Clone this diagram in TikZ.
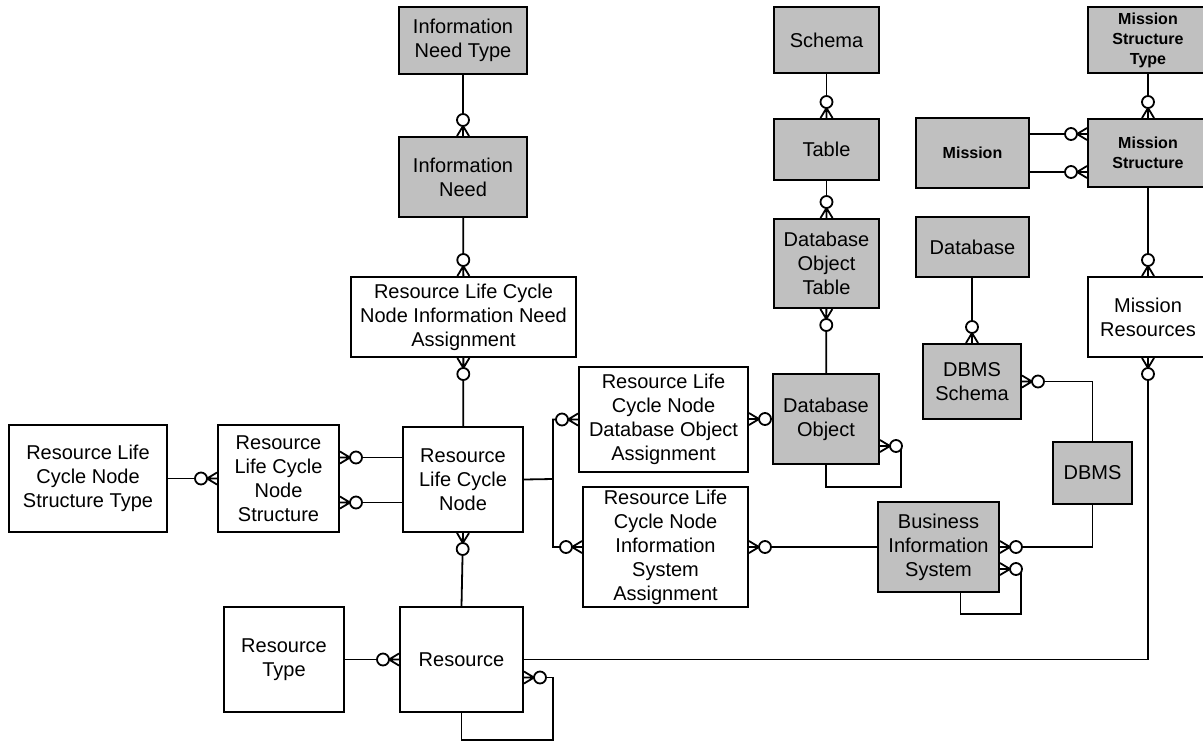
\documentclass[tikz,border=0pt]{standalone}
\usepackage{fontspec}
\setmainfont{Liberation Sans}
\usetikzlibrary{arrows.meta}

% zero-or-many crow's foot: open circle followed by a three-prong foot at the entity
\pgfdeclarearrow{
  name = ZeroMany,
  setup code = {
    \pgfarrowssettipend{0pt}
    \pgfarrowssetlineend{-16pt}
    \pgfarrowssetbackend{-22pt}
    \pgfarrowsupperhullpoint{0pt}{6pt}
    \pgfarrowsupperhullpoint{-22pt}{6pt}
  },
  drawing code = {
    \pgfpathmoveto{\pgfpoint{0pt}{6pt}}
    \pgfpathlineto{\pgfpoint{-10pt}{0pt}}
    \pgfpathlineto{\pgfpoint{0pt}{-6pt}}
    \pgfpathmoveto{\pgfpoint{0pt}{0pt}}
    \pgfpathlineto{\pgfpoint{-10pt}{0pt}}
    \pgfusepathqstroke
    \pgfpathcircle{\pgfpoint{-16pt}{0pt}}{6pt}
    \pgfsetfillcolor{white}
    \pgfusepathqfillstroke
  }
}

\definecolor{entgray}{HTML}{C0C0C0}

\tikzset{
  entity/.style={draw=black, line width=2pt, fill=white, inner sep=0pt,
    align=center, font=\fontsize{20}{24}\selectfont},
  shaded/.style={entity, fill=entgray},
  boldent/.style={shaded, font=\fontsize{16}{20}\selectfont\bfseries},
  rel/.style={line width=1.8pt, -ZeroMany}
}

% box from corner (x1,y1) to (x2,y2), given in picture units
\newcommand\entbox[7]{%
  \node[#1, minimum width={#5-#3}, minimum height={#6-#4}]
    (#2) at ({(#3+#5)/2},{(#4+#6)/2}) {#7};}

\begin{document}
\begin{tikzpicture}[x=1pt, y=-1pt]
\useasboundingbox (0,0) rectangle (1203,742);
\clip (0,0) rectangle (1203,742);
\fill[white] (0,0) rectangle (1203,742);

% information need branch
\entbox{shaded}{INT}{399}{7}{527}{74}{Information\\Need Type}
\entbox{shaded}{IN}{399}{137}{527}{217}{Information\\Need}
\entbox{entity}{INA}{351}{277}{576}{357}{Resource Life Cycle\\Node Information Need\\Assignment}

% resource life cycle node structure
\entbox{entity}{STT}{9}{425}{167}{532}{Resource Life\\Cycle Node\\Structure Type}
\entbox{entity}{ST}{218}{425}{339}{532}{Resource\\Life Cycle\\Node\\Structure}
\entbox{entity}{RLCN}{403}{427}{523}{532}{Resource\\Life Cycle\\Node}
\entbox{entity}{DOA}{579}{367}{748}{472}{Resource Life\\Cycle Node\\Database Object\\Assignment}
\entbox{entity}{ISA}{583}{487}{748}{607}{Resource Life\\Cycle Node\\Information\\System\\Assignment}

% resources
\entbox{entity}{RT}{224}{607}{344}{712}{Resource\\Type}
\entbox{entity}{RES}{400}{607}{523}{712}{Resource}

% database objects
\entbox{shaded}{SCH}{774}{7}{879}{73}{Schema}
\entbox{shaded}{TAB}{774}{119}{879}{180}{Table}
\entbox{shaded}{DOT}{774}{219}{879}{308}{Database\\Object\\Table}
\entbox{shaded}{DBO}{773}{374}{879}{464}{Database\\Object}
\entbox{shaded}{DB}{916}{217}{1029}{277}{Database}
\entbox{shaded}{DBS}{923}{344}{1021}{419}{DBMS\\Schema}
\entbox{shaded}{DBMS}{1053}{442}{1132}{504}{DBMS}
\entbox{shaded}{BIS}{878}{502}{999}{592}{Business\\Information\\System}

% missions
\entbox{boldent}{MST}{1088}{7}{1208}{73}{Mission\\Structure\\Type}
\entbox{boldent}{MS}{1088}{119}{1208}{187}{Mission\\Structure}
\entbox{boldent, line width=2.8pt}{MIS}{916}{118}{1029}{188}{Mission}
\entbox{entity}{MR}{1088}{277}{1208}{357}{Mission\\Resources}

% relationships
\draw[rel] (INT) -- (IN);
\draw[rel] (IN) -- (INA);
\draw[rel] (RLCN) -- (INA);

\draw[rel] (STT) -- (STT.east -| ST.west);
\draw[rel] ([yshift=22pt]RLCN.west) -- ([yshift=22pt]RLCN.west -| ST.east);
\draw[rel] ([yshift=-23pt]RLCN.west) -- ([yshift=-23pt]RLCN.west -| ST.east);

\coordinate (br) at (553,479);
\draw[rel] (RLCN.east) -- (br) |- (DOA.west);
\draw[rel] (br) |- (ISA.west);
\draw[rel] (RES.north) -- (RLCN.south);

\draw[rel] (DBO.west) -- (DBO.west -| DOA.east);
\draw[rel] (DBO.south) |- (901,487) |- ([yshift=-27pt]DBO.east);
\draw[rel] (SCH) -- (TAB);
\draw[rel] (TAB) -- (DOT);
\draw[rel] (DBO) -- (DOT);

\draw[rel] (BIS.west) -- (BIS.west -| ISA.east);
\draw[rel] (DBMS.south) |- (BIS.east);
\draw[rel] ([xshift=22pt]BIS.south) |- (1021,614) |- ([yshift=-22pt]BIS.east);
\draw[rel] (DB.south -| DBS.north) -- (DBS.north);
\draw[rel] (DBMS.north) |- (DBS.east);

\draw[rel] (MST) -- (MS);
\draw[rel] ([yshift=19pt]MIS.east) -- ([yshift=19pt]MIS.east -| MS.west);
\draw[rel] ([yshift=-19pt]MIS.east) -- ([yshift=-19pt]MIS.east -| MS.west);
\draw[rel] (MS) -- (MR);

\draw[rel] (RT) -- (RT.east -| RES.west);
\draw[rel] (RES.east) -| (MR.south);
\draw[rel] (RES.south) |- (553,740) |- ([yshift=-18pt]RES.east);
\end{tikzpicture}
\end{document}
